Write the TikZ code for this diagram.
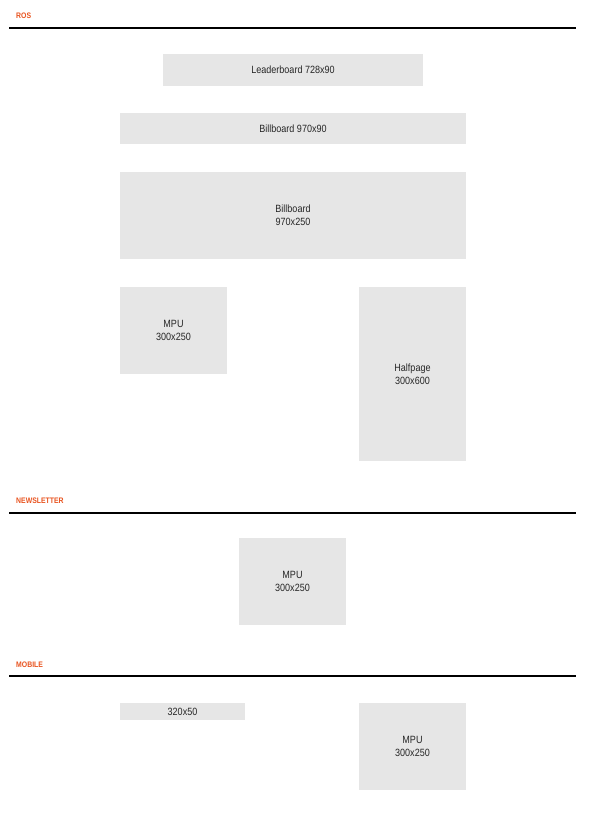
\documentclass[tikz,border=0pt]{standalone}
\usepackage{fontspec}
\setmainfont{Liberation Sans}[FakeStretch=0.86]
\definecolor{adgray}{HTML}{E6E6E6}
\definecolor{hdorange}{HTML}{E8531F}
\begin{document}
\begin{tikzpicture}[x=1pt,y=-1pt,
  ad/.style={fill=adgray,draw=none,align=center,font=\fontsize{10.5}{13}\selectfont,text=black!85},
  hd/.style={anchor=west,text=hdorange,font=\bfseries\fontsize{8}{9}\selectfont,inner sep=0},
  rule/.style={line width=1.4pt,black}]
\useasboundingbox (0,0) rectangle (600,830);
\newcommand{\adbox}[6]{\fill[adgray] (#2,#3) rectangle (#4,#5); \node[ad,fill=none] (#1) at ({(#2+#4)/2},{(#3+#5)/2}) {#6};}
\node[hd] (ros) at (16,16) {ROS};
\coordinate (r1a) at (9,28); \coordinate (r1b) at (576,28);
\draw[rule] (r1a) -- (r1b);
\adbox{lb}{163}{54}{423}{86}{Leaderboard 728x90}
\adbox{bb1}{120}{113}{466}{144}{Billboard 970x90}
\adbox{bb2}{120}{172}{466}{259}{Billboard\\970x250}
\adbox{mpu1}{120}{287}{227}{374}{MPU\\300x250}
\adbox{hp}{359}{287}{466}{461}{Halfpage\\300x600}
\node[hd] (nl) at (16,501) {NEWSLETTER};
\coordinate (r2a) at (9,513); \coordinate (r2b) at (576,513);
\draw[rule] (r2a) -- (r2b);
\adbox{mpu2}{239}{538}{346}{625}{MPU\\300x250}
\node[hd] (mob) at (16,665) {MOBILE};
\coordinate (r3a) at (9,676); \coordinate (r3b) at (576,676);
\draw[rule] (r3a) -- (r3b);
\adbox{mb}{120}{703}{245}{720}{320x50}
\adbox{mpu3}{359}{703}{466}{790}{MPU\\300x250}
\end{tikzpicture}
\end{document}
